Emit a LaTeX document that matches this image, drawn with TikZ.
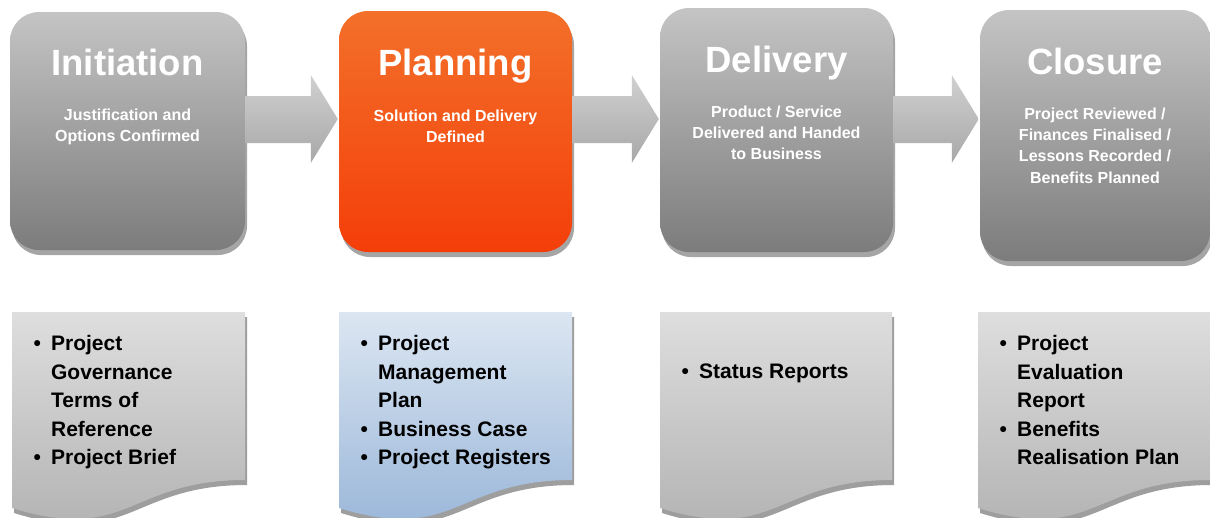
\documentclass[tikz,border=0pt]{standalone}
\usepackage{fontspec}
\setmainfont{Liberation Sans}
\usetikzlibrary{shadows,calc}

\definecolor{stagegraytop}{RGB}{196,196,196}
\definecolor{stagegraymid}{RGB}{164,164,164}
\definecolor{stagegraybot}{RGB}{124,124,124}
\definecolor{stageorangetop}{RGB}{243,112,42}
\definecolor{stageorangemid}{RGB}{255,104,0}
\definecolor{stageorangebot}{RGB}{244,62,10}
\definecolor{arrowtop}{RGB}{208,208,208}
\definecolor{arrowbot}{RGB}{168,168,168}
\definecolor{sheetgraytop}{RGB}{222,222,222}
\definecolor{sheetgraybot}{RGB}{176,176,176}
\definecolor{sheetbluetop}{RGB}{220,230,242}
\definecolor{sheetbluebot}{RGB}{149,179,215}
\definecolor{sheetshadow}{RGB}{158,158,158}
\definecolor{stageshadow}{RGB}{165,165,165}

\tikzset{
  stagebox/.style={rounded corners=29pt, inner sep=0pt,
    drop shadow={shadow xshift=2pt, shadow yshift=-5pt, fill=stageshadow, opacity=1}},
  graystage/.style={stagebox, top color=stagegraytop, middle color=stagegraymid, bottom color=stagegraybot},
  orangestage/.style={stagebox, top color=stageorangetop, middle color=stageorangemid, bottom color=stageorangebot},
  stagetitle/.style={anchor=base, text=white, inner sep=0pt,
    font=\bfseries\fontsize{36.5}{40}\selectfont},
  stagesub/.style={anchor=base, text=white, inner sep=0pt,
    font=\bfseries\fontsize{16}{21.2}\selectfont},
  doclist/.style={anchor=base west, inner sep=0pt,
    font=\bfseries\fontsize{21}{28.5}\selectfont},
  flowarrow/.style={top color=arrowtop, bottom color=arrowbot},
  graysheet/.style={top color=sheetgraytop, bottom color=sheetgraybot},
  bluesheet/.style={top color=sheetbluetop, bottom color=sheetbluebot},
}

% block arrow from the east side of one stage to the west side of the next
\newcommand\stagearrow[2]{%
  \shade[flowarrow] (#1.east |- 0,96)
    -- ($(#2.west |- 0,96)+(-28,0)$)
    -- ($(#2.west |- 0,75)+(-28,0)$)
    -- ($(#2.west |- 0,119)+(-1,0)$)
    -- ($(#2.west |- 0,163)+(-28,0)$)
    -- ($(#2.west |- 0,143)+(-28,0)$)
    -- (#1.east |- 0,143) -- cycle;}

% document sheet with a wavy lower edge, spanning x = #1 .. #2
\newcommand\docsheet[3]{%
  \fill[sheetshadow, shift={(2,5)}] (#1,312) -- (#2,312) -- (#2,480)
    .. controls ({(#1+#2)/2},480) and ({(#1+#2)/2},544) .. (#1,508) -- cycle;
  \shade[#3] (#1,312) -- (#2,312) -- (#2,480)
    .. controls ({(#1+#2)/2},480) and ({(#1+#2)/2},544) .. (#1,508) -- cycle;}

\begin{document}
\begin{tikzpicture}[x=1pt,y=-1pt]
\useasboundingbox (0,0) rectangle (1210,517);

% stage boxes
\node[graystage, minimum width=235pt, minimum height=238pt] (init) at (127.5,131) {};
\node[orangestage, minimum width=233pt, minimum height=241pt] (plan) at (455.5,131.5) {};
\node[graystage, minimum width=233pt, minimum height=244pt] (deliv) at (776.5,130) {};
\node[graystage, minimum width=230pt, minimum height=251pt] (close) at (1095,135.5) {};

% arrows between stages
\stagearrow{init}{plan}
\stagearrow{plan}{deliv}
\stagearrow{deliv}{close}

% stage titles
\node[stagetitle] (initT) at (127.5,75) {Initiation};
\node[stagetitle] (planT) at (455.5,75) {Planning};
\node[stagetitle] (delivT) at (776.5,72.5) {Delivery};
\node[stagetitle] (closeT) at (1095,74) {Closure};

% stage descriptions
\node[stagesub] (initS) at (127.5,120.5) {\begin{tabular}[t]{@{}c@{}}Justification and\\Options Confirmed\end{tabular}};
\node[stagesub] (planS) at (455.5,121) {\begin{tabular}[t]{@{}c@{}}Solution and Delivery\\Defined\end{tabular}};
\node[stagesub] (delivS) at (776.5,117.5) {\begin{tabular}[t]{@{}c@{}}Product / Service\\Delivered and Handed\\to Business\end{tabular}};
\node[stagesub] (closeS) at (1095,119.5) {\begin{tabular}[t]{@{}c@{}}Project Reviewed /\\Finances Finalised /\\Lessons Recorded /\\Benefits Planned\end{tabular}};

% deliverable sheets
\docsheet{12}{245}{graysheet}
\docsheet{339}{572}{bluesheet}
\docsheet{660}{892}{graysheet}
\docsheet{978}{1210}{graysheet}

% deliverable lists
\node[doclist] (initL) at (33.3,350.5) {\begin{tabular}[t]{@{}l@{\hspace{10.3pt}}l@{}}
  \textbullet & Project\\ & Governance\\ & Terms of\\ & Reference\\
  \textbullet & Project Brief\end{tabular}};
\node[doclist] (planL) at (360.3,350.5) {\begin{tabular}[t]{@{}l@{\hspace{10.3pt}}l@{}}
  \textbullet & Project\\ & Management\\ & Plan\\
  \textbullet & Business Case\\
  \textbullet & Project Registers\end{tabular}};
\node[doclist] (delivL) at (681.3,378.5) {\begin{tabular}[t]{@{}l@{\hspace{10.3pt}}l@{}}
  \textbullet & Status Reports\end{tabular}};
\node[doclist] (closeL) at (999.3,350.5) {\begin{tabular}[t]{@{}l@{\hspace{10.3pt}}l@{}}
  \textbullet & Project\\ & Evaluation\\ & Report\\
  \textbullet & Benefits\\ & Realisation Plan\end{tabular}};
\end{tikzpicture}
\end{document}
